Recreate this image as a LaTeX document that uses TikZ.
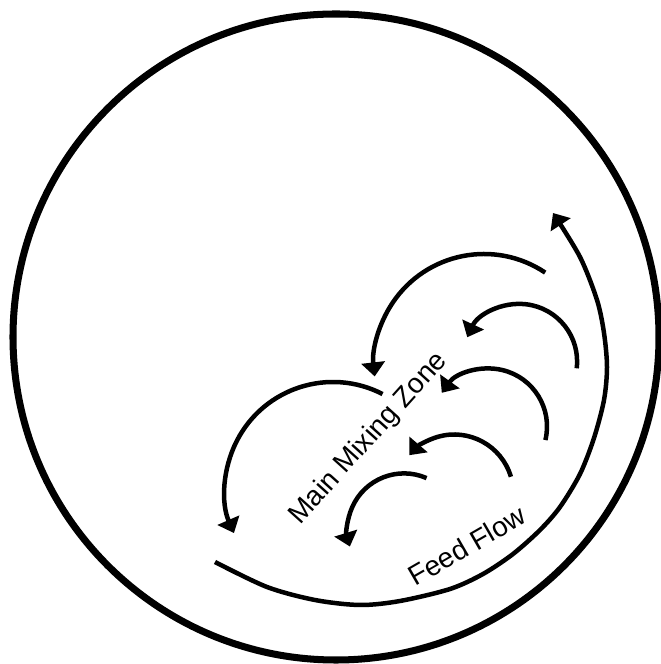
\documentclass[tikz,border=0pt]{standalone}
\usepackage{fontspec}
\setmainfont{Liberation Sans}
\usetikzlibrary{arrows.meta}
\begin{document}
\begin{tikzpicture}[x=0.025cm,y=0.025cm,
        flow/.style={line width=3.2pt,-{Triangle[length=10pt,width=16.5pt]}},
        every node/.style={inner sep=0pt,font=\fontsize{19.9}{24}\selectfont}]
            \useasboundingbox (0,0) rectangle (660,664);
            \draw[line width=5pt] (336,327) circle[radius=323];

            \draw[flow] ([shift={(56.2:110)}]484,300) arc[start angle=56.2,end angle=186.5,radius=110];
            \draw[flow] ([shift={(62.7:108)}]333,174) arc[start angle=62.7,end angle=203.5,radius=108];
            \draw[flow] ([shift={(-6.8:57.6)}]519.5,302.5) arc[start angle=-6.8,end angle=155.1,radius=57.6];
            \draw[flow] ([shift={(-13.5:58)}]489,237.5) arc[start angle=-13.5,end angle=144.5,radius=58];
            \draw[flow] ([shift={(16.5:59)}]454.3,170.5) arc[start angle=16.5,end angle=139.5,radius=59];
            \draw[flow] ([shift={(66.5:56.6)}]404,134) arc[start angle=66.5,end angle=197,radius=56.6];
            \draw[flow] plot[smooth] coordinates {(215,102) (267,77) (315,64) (360,59) (400,63) (450,75) (483,90) (513,110) (540,134) (560,157) (580,190) (594,226) (604,264) (607,297) (604,331) (597,364) (580,407) (553,451)};

            \node[anchor=base west,rotate=48] (zone) at (300,138) {Main Mixing Zone};
            \node[anchor=base west,rotate=30] (feed) at (415,77) {Feed Flow};
        \end{tikzpicture}
\end{document}
